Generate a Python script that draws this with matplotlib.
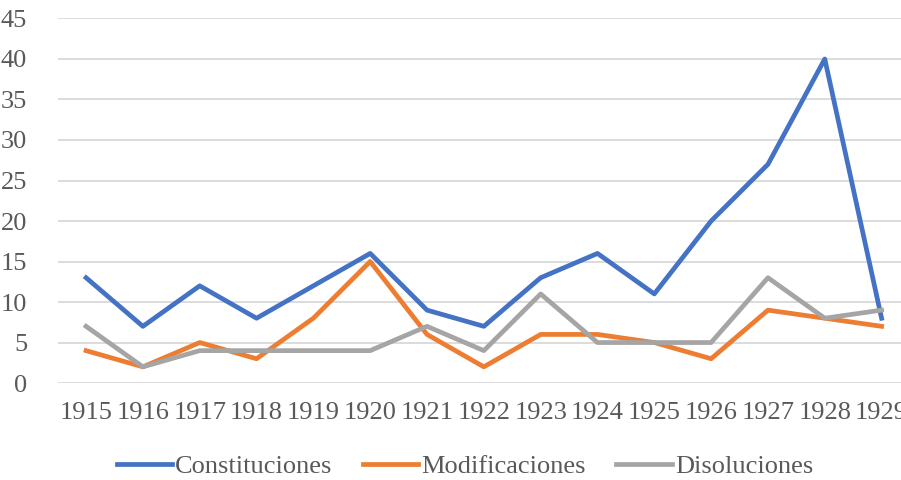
import matplotlib.pyplot as plt

plt.rcParams['font.family'] = ['Liberation Serif', 'DejaVu Serif']

years = ['1915', '1916', '1917', '1918', '1919', '1920', '1921', '1922',
         '1923', '1924', '1925', '1926', '1927', '1928', '1929']
constituciones = [13, 7, 12, 8, 12, 16, 9, 7, 13, 16, 11, 20, 27, 40, 8]
modificaciones = [4, 2, 5, 3, 8, 15, 6, 2, 6, 6, 5, 3, 9, 8, 7]
disoluciones = [7, 2, 4, 4, 4, 4, 7, 4, 11, 5, 5, 5, 13, 8, 9]

txt = '#595959'
fig = plt.figure(figsize=(9.01, 4.8), dpi=100)
ax = fig.add_axes([0.064, 0.202, 0.946, 0.7595])

x = range(len(years))
ax.plot(x, constituciones, color='#4472C4', lw=3.4, label='Constituciones', solid_joinstyle='round')
ax.plot(x, modificaciones, color='#ED7D31', lw=3.4, label='Modificaciones', solid_joinstyle='round')
ax.plot(x, disoluciones, color='#A5A5A5', lw=3.4, label='Disoluciones', solid_joinstyle='round')

ax.set_xlim(-0.5, len(years) - 0.5)
ax.set_ylim(0, 45)
ax.set_yticks(range(0, 46, 5))
ax.set_xticks(list(x))
ax.set_xticklabels(years)
ax.yaxis.grid(True, color='#D9D9D9', lw=1.3)
ax.set_axisbelow(True)
for s in ax.spines.values():
    s.set_visible(False)
ax.tick_params(length=0, labelsize=19, colors=txt)
ax.tick_params(axis='x', pad=14)
ax.tick_params(axis='y', pad=22)

fig.legend(loc='center', bbox_to_anchor=(0.516, 0.029), ncol=3, frameon=False,
           fontsize=19, labelcolor=txt, handlelength=2.1, handletextpad=0.12,
           columnspacing=1.15, borderpad=0, borderaxespad=0)

fig.savefig('out.png')
